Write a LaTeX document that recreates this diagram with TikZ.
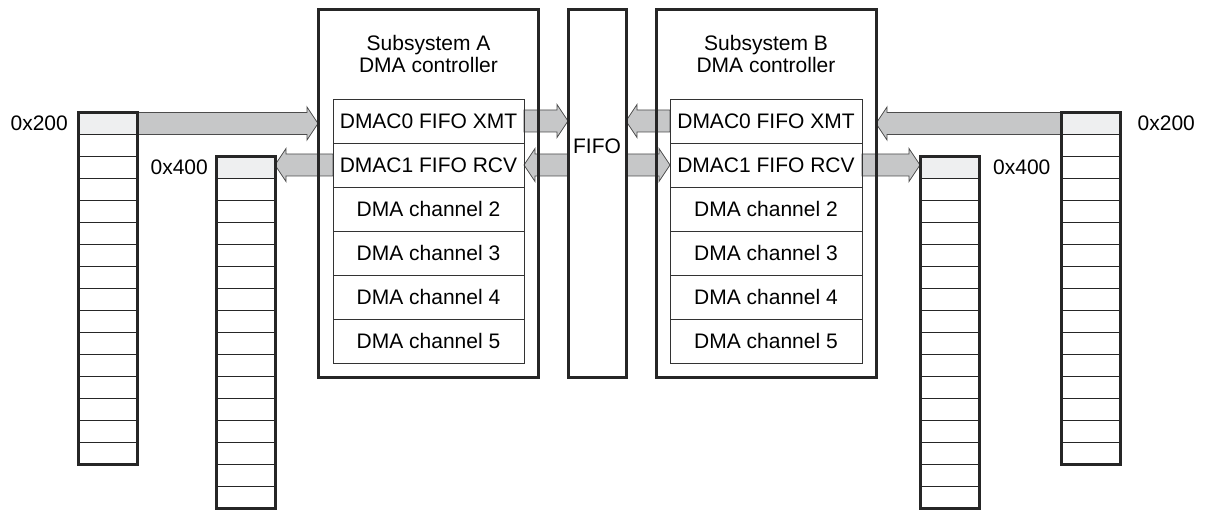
\documentclass[tikz,border=0pt]{standalone}
\usepackage{fontspec}
\setmainfont{Liberation Sans}
\usetikzlibrary{calc}
\definecolor{topgrey}{HTML}{EEEFF0}
\definecolor{arrgrey}{HTML}{C6C7C8}
\newcommand\lbl{\fontsize{21}{22.5}\selectfont}
\pgfdeclarelayer{background}
\pgfsetlayers{background,main}
\tikzset{
 membox/.style={draw=black!85, line width=3pt, minimum width=59pt, minimum height=352pt, inner sep=0pt, outer sep=0pt, anchor=north},
 memtop/.style={fill=topgrey, minimum width=59pt, minimum height=22pt, inner sep=0pt, outer sep=0pt, anchor=north},
 cellline/.style={line width=1pt, draw=black!85},
 bigbox/.style={draw=black!85, line width=3pt, inner sep=0pt, outer sep=0pt},
 rowbox/.style={draw=black!80, line width=0.8pt, minimum height=44pt, inner sep=0pt, outer sep=0pt, font=\lbl},
 fat/.style={fill=arrgrey, draw=black!70, line width=0.8pt},
 addr/.style={font=\lbl, inner sep=0pt},
 title/.style={font=\lbl, align=center, inner sep=0pt},
}
\newcommand\fatarrow[2]{%
 \draw[fat] let \p1=(#1), \p2=(#2), \n1={ifthenelse(\x2>\x1,1,-1)} in
 (\x1,{\y1+11pt}) -- ({\x2-\n1*11pt},{\y1+11pt}) -- ({\x2-\n1*11pt},{\y1+16.5pt}) -- (\x2,\y1)
 -- ({\x2-\n1*11pt},{\y1-16.5pt}) -- ({\x2-\n1*11pt},{\y1-11pt}) -- (\x1,{\y1-11pt}) -- cycle;}
\newcommand\memcol[3]{%
 \node[memtop] (#1top) at (#2,#3) {};
 \node[membox] (#1) at (#2,#3) {};
 \foreach \k in {1,...,15}
   \draw[cellline] ([yshift=-\k*22pt]#1.north west) -- ([yshift=-\k*22pt]#1.north east);}
\begin{document}
\begin{tikzpicture}[x=1pt,y=-1pt]
\useasboundingbox (0,0) rectangle (1205,510);
% memory columns
\memcol{mA1}{107.5}{112.5}
\memcol{mA2}{245.5}{156.5}
\memcol{mB2}{949.5}{156.5}
\memcol{mB1}{1091}{112.5}
% address labels
\node[addr, anchor=east] (aA1) at ([xshift=-10pt]mA1top.west) {0x200};
\node[addr, anchor=east] (aA2) at ([xshift=-8pt]mA2top.west) {0x400};
\node[addr, anchor=west] (aB2) at ([xshift=14pt]mB2top.east) {0x400};
\node[addr, anchor=west] (aB1) at ([xshift=17pt]mB1top.east) {0x200};
% subsystem boxes and FIFO
\node[bigbox, minimum width=220pt, minimum height=368pt] (subA) at (428,194) {};
\node[bigbox, minimum width=58pt, minimum height=368pt] (fifo) at (597,194) {};
\node[bigbox, minimum width=220pt, minimum height=368pt] (subB) at (766,194) {};
\node[title] (tA) at (428.5,54) {Subsystem A\\DMA controller};
\node[title] (tB) at (766,54) {Subsystem B\\DMA controller};
\node[title] (tF) at (597,146) {FIFO};
% tables
\foreach \s/\x/\w in {A/428.5/191, B/766/192} {
  \node[rowbox, minimum width=\w pt] (r\s0) at (\x,121) {DMAC0 FIFO XMT};
  \node[rowbox, minimum width=\w pt] (r\s1) at (\x,165) {DMAC1 FIFO RCV};
  \node[rowbox, minimum width=\w pt] (r\s2) at (\x,209) {DMA channel 2};
  \node[rowbox, minimum width=\w pt] (r\s3) at (\x,253) {DMA channel 3};
  \node[rowbox, minimum width=\w pt] (r\s4) at (\x,297) {DMA channel 4};
  \node[rowbox, minimum width=\w pt] (r\s5) at (\x,341) {DMA channel 5};
}
% arrows
\begin{pgfonlayer}{background}
\fatarrow{mA1top.east}{subA.west |- mA1top.east}
\fatarrow{rA1.west}{mA2top.east |- rA1.west}
\fatarrow{rA0.east}{fifo.west |- rA0.east}
\fatarrow{fifo.west |- rA1.east}{rA1.east}
\fatarrow{rB0.west}{fifo.east |- rB0.west}
\fatarrow{fifo.east |- rB1.west}{rB1.west}
\fatarrow{mB1top.west}{subB.east |- mB1top.west}
\fatarrow{rB1.east}{mB2top.west |- rB1.east}
\end{pgfonlayer}
\end{tikzpicture}
\end{document}
